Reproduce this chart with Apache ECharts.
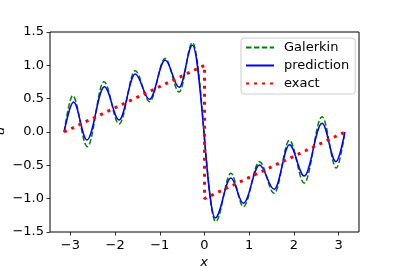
<!DOCTYPE html>
<html>
<head>
<meta charset="utf-8">
<script src="https://cdn.jsdelivr.net/npm/echarts@6/dist/echarts.min.js"></script>
<style>html,body{margin:0;padding:0;background:#fff}#c{width:399px;height:266px}</style>
</head>
<body>
<div id="c"></div>
<script>
// Galerkin (green dashed) - turning points
const galerkinX = [-3.14,-2.95,-2.62,-2.25,-1.91,-1.55,-1.23,-0.88,-0.566,-0.27,0.25,0.59,0.87,1.23,1.56,1.90,2.23,2.63,2.95,3.14];
const galerkinY = [0,0.545,-0.22,0.755,0.12,0.92,0.455,1.105,0.60,1.34,-1.345,-0.62,-1.12,-0.445,-0.92,-0.125,-0.765,0.23,-0.54,0];
// Prediction (blue solid)
const predX = [-3.14,-2.93,-2.63,-2.24,-1.91,-1.55,-1.23,-0.88,-0.566,-0.27,0.24,0.59,0.87,1.23,1.56,1.90,2.23,2.63,2.94,3.14];
const predY = [0,0.45,-0.12,0.68,0.18,0.87,0.49,1.08,0.67,1.30,-1.29,-0.69,-1.07,-0.495,-0.86,-0.19,-0.66,0.13,-0.445,0];
// Exact (red dotted)
const exactX = [-3.1416, 0, 0, 3.1416];
const exactY = [0, 1, -1, 0];
// ticks
const xTicks = [-3,-2,-1,0,1,2,3];
const yTicks = [-1.5,-1.0,-0.5,0.0,0.5,1.0,1.5];

const zip = (a,b)=>a.map((v,i)=>[v,b[i]]);
const font = 'DejaVu Sans';
const chart = echarts.init(document.getElementById('c'), null, {renderer:'canvas'});
chart.setOption({
  animation:false,
  grid:{left:50,right:40,top:32,bottom:34,show:true,borderColor:'#000',borderWidth:1,backgroundColor:'transparent'},
  xAxis:{type:'value',min:-3.456,max:3.456,
    axisLine:{show:false,onZero:false},
    splitLine:{show:false},
    axisTick:{show:true,inside:false,length:3.5,lineStyle:{color:'#000',width:0.8},customValues:xTicks},
    axisLabel:{show:true,margin:7,fontFamily:font,fontSize:13,color:'#000',customValues:xTicks,
      formatter:v=>String(Math.round(v)).replace('-','\u2212')}
  },
  yAxis:{type:'value',min:yTicks[0],max:yTicks[yTicks.length-1],interval:0.5,
    axisLine:{show:false,onZero:false},
    splitLine:{show:false},
    axisTick:{show:true,inside:false,length:3.5,lineStyle:{color:'#000',width:0.8}},
    axisLabel:{margin:6,fontFamily:font,fontSize:13,color:'#000',
      formatter:v=>Number(v).toFixed(1).replace('-','\u2212')}
  },
  legend:{orient:'vertical',left:241,top:38,padding:[3,6,4,4],itemWidth:28,itemHeight:14,itemGap:5,
    backgroundColor:'rgba(255,255,255,0.8)',borderColor:'#cccccc',borderWidth:1,borderRadius:3,
    itemStyle:{opacity:0},
    textStyle:{fontFamily:font,fontSize:13,color:'#000',padding:[0,0,0,5]},
    data:['Galerkin','prediction','exact']},
  graphic:[
    {type:'text',x:204,y:256,style:{text:'x',font:'italic 13px "DejaVu Sans"',fill:'#000',textAlign:'center',textVerticalAlign:'top'}},
    {type:'text',x:1,y:131,rotation:Math.PI/2,style:{text:'u',font:'italic 13px "DejaVu Sans"',fill:'#000',textAlign:'center',textVerticalAlign:'middle'}}
  ],
  series:[
    {name:'Galerkin',type:'line',data:zip(galerkinX,galerkinY),smooth:0.36,smoothMonotone:'x',showSymbol:false,symbol:'none',
      lineStyle:{color:'#008000',width:1.5,type:[5.5,2.4]},itemStyle:{color:'#008000'},z:2},
    {name:'prediction',type:'line',data:zip(predX,predY),smooth:0.36,smoothMonotone:'x',showSymbol:false,symbol:'none',
      lineStyle:{color:'#0000ff',width:1.5},itemStyle:{color:'#0000ff'},z:3},
    {name:'exact',type:'line',data:zip(exactX,exactY),showSymbol:false,symbol:'none',
      lineStyle:{color:'#ff0000',width:3,type:[3,5],cap:'butt'},itemStyle:{color:'#ff0000'},z:4}
  ]
});
</script>
</body>
</html>
